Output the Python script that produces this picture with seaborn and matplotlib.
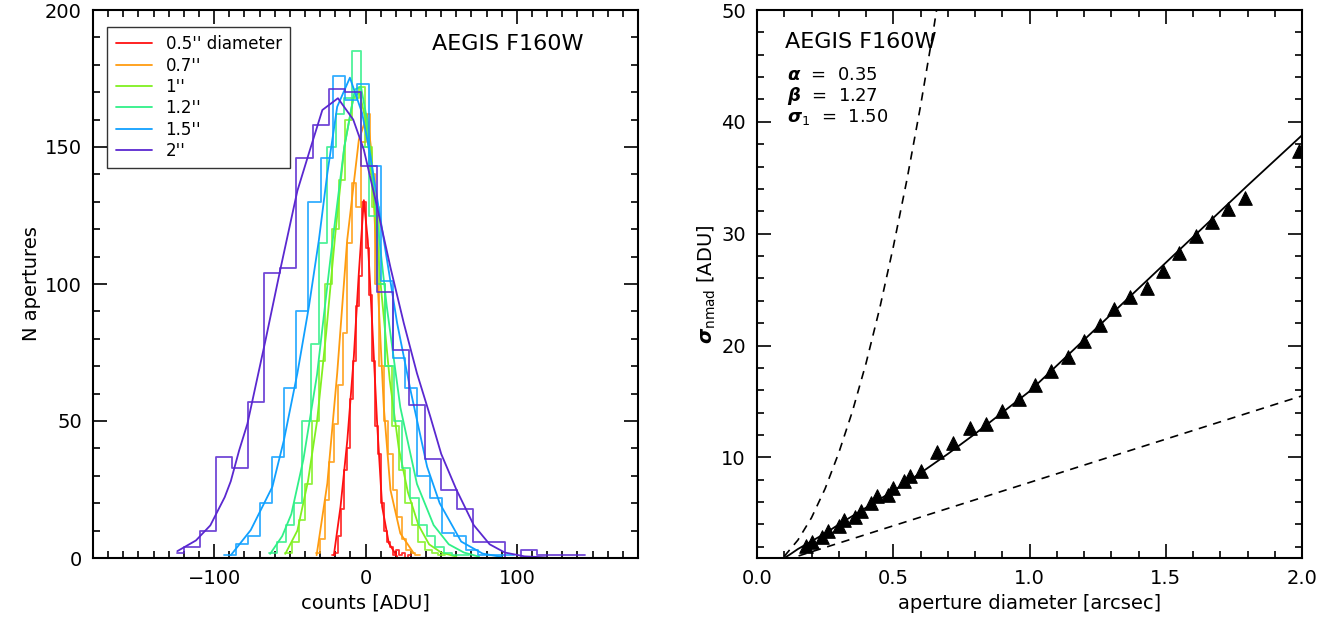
import numpy as np
import pandas as pd
import matplotlib
matplotlib.use("Agg")
import matplotlib.pyplot as plt
from matplotlib.ticker import MultipleLocator
import seaborn as sns

# ---------------- data: left panel (histograms of aperture counts) ----------------
labels = ["0.5'' diameter", "0.7''", "1''", "1.2''", "1.5''", "2''"]
colors = ["#ff1010", "#ff9c10", "#80f020", "#30f088", "#10a0ff", "#5a28d0"]

edges_05 = [-22, -20, -18, -16, -14, -12, -10, -8, -6, -4, -2, 0, 2, 4, 6, 8, 10, 12, 14, 16, 18, 20, 22, 24, 26, 28, 30]
counts_05 = [1, 2, 8, 18, 32, 40, 58, 72, 92, 103, 130, 113, 96, 72, 48, 38, 20, 10, 6, 4, 1, 3, 1, 2, 0, 1]

edges_07 = [-33, -30, -27, -24, -21, -18, -15, -12, -9, -6, -3, 0, 3, 6, 9, 12, 15, 18, 21, 24, 27, 30, 33, 36]
counts_07 = [2, 7, 21, 35, 49, 63, 82, 115, 137, 128, 152, 162, 140, 100, 70, 50, 38, 25, 15, 7, 3, 2, 1]

edges_10 = [-53.0, -48.6, -44.2, -39.8, -35.4, -31.0, -26.6, -22.2, -17.8, -13.4, -9.0, -4.6, -0.2,
            4.2, 8.6, 13.0, 17.4, 21.8, 26.2, 30.6, 35.0, 39.4, 43.8, 48.2, 52.6]
counts_10 = [2, 6, 14, 27, 50, 72, 100, 120, 138, 160, 168, 172, 150, 128, 100, 70, 48, 32, 20, 12, 6, 3, 2, 1]

edges_12 = [-63.8, -58.3, -52.8, -47.3, -41.8, -36.3, -30.8, -25.3, -19.8, -14.3, -8.8, -3.3, 2.2,
            7.7, 13.2, 18.7, 24.2, 29.7, 35.2, 40.7, 46.2, 51.7, 57.2, 62.7, 68.2]
counts_12 = [2, 6, 12, 20, 50, 78, 115, 150, 162, 168, 185, 150, 125, 100, 70, 50, 33, 22, 12, 8, 4, 2, 1, 1]

edges_15 = [-93.7, -85.7, -77.7, -69.7, -61.7, -53.7, -45.7, -37.7, -29.7, -21.7, -13.7, -5.7, 2.3,
            10.3, 18.3, 26.3, 34.3, 42.3, 50.3, 58.3, 66.3, 74.3, 82.3, 90.3, 98.3]
counts_15 = [1, 5, 8, 20, 37, 62, 90, 130, 146, 176, 167, 173, 143, 101, 73, 62, 30, 22, 9, 8, 3, 1, 1, 1]

edges_20 = [-124.4, -119.8, -109.2, -98.6, -88.0, -77.4, -66.8, -56.2, -45.6, -35.0, -24.4, -13.8, -3.2,
            7.4, 18.0, 28.6, 39.2, 49.8, 60.4, 71.0, 81.6, 92.2, 102.8, 113.4, 124.0, 134.6, 145.2]
counts_20 = [2, 4, 10, 37, 33, 57, 104, 106, 146, 158, 171, 170, 143, 97, 76, 56, 36, 25, 18, 6, 6, 0, 3, 1, 1, 1]

# fitted curves
fit_x_05 = [-20.9, -16.5, -12.0, -7.7, -4.4, -1.1, 1.5, 4.4, 7.7, 11.0, 15.4, 20.9]
fit_y_05 = [1.0, 18.7, 43.0, 73.5, 104.0, 130.6, 116.0, 85.7, 49.0, 18.7, 5.4, 0.5]

fit_x_07 = [-32.3, -25.2, -18.7, -12.1, -4.4, 1.1, 4.0, 7.7, 12.1, 16.5, 23.0, 31.9]
fit_y_07 = [1.0, 27.3, 67.4, 116.0, 152.6, 161.7, 148.0, 104.0, 55.0, 24.8, 9.0, 1.7]

fit_x_10 = [-53, -45, -38, -32, -26, -20, -14, -8, -4, 0, 5, 10, 16, 22, 28, 35, 42, 50, 60]
fit_y_10 = [1.5, 10, 28, 50, 82, 118, 150, 168, 170, 160, 135, 100, 65, 40, 24, 12, 5, 2, 0.5]

fit_x_12 = [-63, -55, -49, -41, -32, -23, -14, -7, -3, 1, 6, 14, 23, 34, 45, 55, 65, 75]
fit_y_12 = [1.5, 8, 16, 36, 67, 110, 150, 171, 172, 160, 132, 92, 55, 27, 12, 5, 2, 0.5]

fit_x_15 = [-89, -75.8, -61.5, -53.9, -45, -37.4, -30.8, -25.2, -18.7, -10.3, -2.2, 3.3, 12.1, 20.9, 29.7,
            40.7, 49, 63.2, 77.4, 90]
fit_y_15 = [1, 10.2, 26, 43, 67.4, 91.7, 116, 140.4, 164.7, 175.3, 162.3, 146.5, 116, 85.7, 61.3,
            33.3, 20, 6, 1.6, 0.4]

fit_x_20 = [-124.3, -112, -102.5, -93, -89, -83.5, -78, -66, -56, -45, -37.4, -28.5, -18.2, -8.1, -1.1,
            7.7, 16.5, 25.3, 34, 42.8, 50, 60, 71.5, 82, 92, 105, 120]
fit_y_20 = [2.5, 6.4, 11.9, 22.2, 28, 39.2, 49, 79.6, 106, 134, 147.7, 163.5, 167.8, 160, 149,
            128, 106, 85.7, 67.4, 51.6, 38, 25, 12, 5, 2, 0.6, 0.2]

hist_edges = [edges_05, edges_07, edges_10, edges_12, edges_15, edges_20]
hist_counts = [counts_05, counts_07, counts_10, counts_12, counts_15, counts_20]
fit_xs = [fit_x_05, fit_x_07, fit_x_10, fit_x_12, fit_x_15, fit_x_20]
fit_ys = [fit_y_05, fit_y_07, fit_y_10, fit_y_12, fit_y_15, fit_y_20]

# ---------------- data: right panel (noise vs aperture size) ----------------
ap_diam = [0.18, 0.20, 0.24, 0.26, 0.30, 0.32, 0.36, 0.38, 0.42, 0.44, 0.48, 0.50, 0.54, 0.56, 0.60,
           0.66, 0.72, 0.78, 0.84, 0.90, 0.96, 1.02, 1.08, 1.14, 1.20, 1.26, 1.31, 1.37, 1.43, 1.49,
           1.55, 1.61, 1.67, 1.73, 1.79, 1.99]
sigma_nmad = [2.1, 2.4, 2.9, 3.4, 3.9, 4.4, 4.7, 5.2, 5.9, 6.5, 6.6, 7.3, 7.9, 8.3, 8.8,
              10.5, 11.3, 12.6, 13.0, 14.1, 15.2, 16.5, 17.7, 19.0, 20.4, 21.8, 23.3, 24.3, 25.1, 26.7,
              28.3, 29.8, 31.0, 32.2, 33.2, 37.4]

fit_diam = [0.10, 0.12, 0.15, 0.20, 0.25, 0.30, 0.40, 0.50, 0.60, 0.70, 0.80, 0.90, 1.00, 1.20, 1.40, 1.60, 1.80, 2.00]
fit_sigma = [1.0, 1.3, 1.8, 2.5, 3.2, 4.0, 5.5, 7.0, 8.6, 10.3, 12.1, 14.0, 15.9, 20.5, 25.1, 29.7, 34.3, 38.8]

upper_diam = [0.10, 0.15, 0.20, 0.25, 0.30, 0.35, 0.40, 0.45, 0.50, 0.55, 0.60, 0.65, 0.70]
upper_sigma = [1.15, 2.6, 4.6, 7.2, 10.4, 14.1, 18.4, 23.3, 28.8, 34.8, 41.4, 48.6, 56.4]

lower_diam = [0.10, 2.00]
lower_sigma = [0.78, 15.5]

# ---------------- plotting ----------------
sns.set_style("ticks")
plt.rcParams["font.family"] = ["DejaVu Sans"]
plt.rcParams["mathtext.fontset"] = "dejavusans"
plt.rcParams["text.color"] = "black"
plt.rcParams["axes.labelcolor"] = "black"
plt.rcParams["xtick.color"] = "black"
plt.rcParams["ytick.color"] = "black"

fig = plt.figure(figsize=(13.28, 6.22), dpi=100)
ax1 = fig.add_axes([93 / 1328, 64 / 622, 545 / 1328, 548 / 622])
ax2 = fig.add_axes([757 / 1328, 64 / 622, 545 / 1328, 548 / 622])

for edges, counts, fx, fy, c, lab in zip(hist_edges, hist_counts, fit_xs, fit_ys, colors, labels):
    centers = [0.5 * (a + b) for a, b in zip(edges[:-1], edges[1:])]
    sns.histplot(x=centers, weights=counts, bins=list(edges), element="step", fill=False,
                 color=c, linewidth=1.3, alpha=0.85, ax=ax1)
    sns.lineplot(x=fx, y=fy, sort=False, color=c, linewidth=1.3, label=lab, ax=ax1)

ax1.set_xlim(-180, 180)
ax1.set_ylim(0, 200)
ax1.xaxis.set_major_locator(MultipleLocator(100))
ax1.xaxis.set_minor_locator(MultipleLocator(10))
ax1.yaxis.set_major_locator(MultipleLocator(50))
ax1.yaxis.set_minor_locator(MultipleLocator(10))
ax1.set_xlabel("counts [ADU]", fontsize=14)
ax1.set_ylabel("N apertures", fontsize=14, labelpad=3)
ax1.text(0.622, 0.938, "AEGIS F160W", transform=ax1.transAxes, fontsize=16, va="center")
leg = ax1.legend(loc="upper left", bbox_to_anchor=(0.026, 0.969), borderaxespad=0, fontsize=12,
                 frameon=True, fancybox=False, handlelength=2.2, labelspacing=0.2, borderpad=0.5)
leg.get_frame().set_edgecolor("black")
leg.get_frame().set_linewidth(1.0)

# right panel
sns.lineplot(x=upper_diam, y=upper_sigma, sort=False, color="black", linewidth=1.2, ax=ax2)
sns.lineplot(x=lower_diam, y=lower_sigma, sort=False, color="black", linewidth=1.2, ax=ax2)
for ln in ax2.lines:
    ln.set_dashes([5, 4])
sns.lineplot(x=fit_diam, y=fit_sigma, sort=False, color="black", linewidth=1.3, ax=ax2)
sns.scatterplot(x=ap_diam, y=sigma_nmad, marker="^", s=95, color="black", edgecolor="black", ax=ax2)

ax2.set_xlim(0, 2.0)
ax2.set_ylim(1, 50)
ax2.xaxis.set_major_locator(MultipleLocator(0.5))
ax2.xaxis.set_minor_locator(MultipleLocator(0.1))
ax2.yaxis.set_major_locator(MultipleLocator(10))
ax2.yaxis.set_minor_locator(MultipleLocator(2))
ax2.xaxis.set_major_formatter(plt.FormatStrFormatter("%.1f"))
ax2.set_xlabel("aperture diameter [arcsec]", fontsize=14)
ax2.set_ylabel(r"$\boldsymbol{\sigma}_{\rm nmad}$ [ADU]", fontsize=14, labelpad=2)
ax2.text(0.051, 0.942, "AEGIS F160W", transform=ax2.transAxes, fontsize=16, va="center")
ax2.text(0.055, 0.881, r"$\boldsymbol{\alpha}$  =  0.35", transform=ax2.transAxes, fontsize=13, va="center")
ax2.text(0.055, 0.843, r"$\boldsymbol{\beta}$  =  1.27", transform=ax2.transAxes, fontsize=13, va="center")
ax2.text(0.055, 0.805, r"$\boldsymbol{\sigma}_1$  =  1.50", transform=ax2.transAxes, fontsize=13, va="center")

for ax in (ax1, ax2):
    ax.tick_params(which="both", direction="in", top=True, right=True, labelsize=14, width=1.2, pad=8)
    ax.tick_params(which="major", length=10)
    ax.tick_params(which="minor", length=5)
    for sp in ax.spines.values():
        sp.set_linewidth(1.5)
        sp.set_color("black")

fig.savefig("out.png", dpi=100)
